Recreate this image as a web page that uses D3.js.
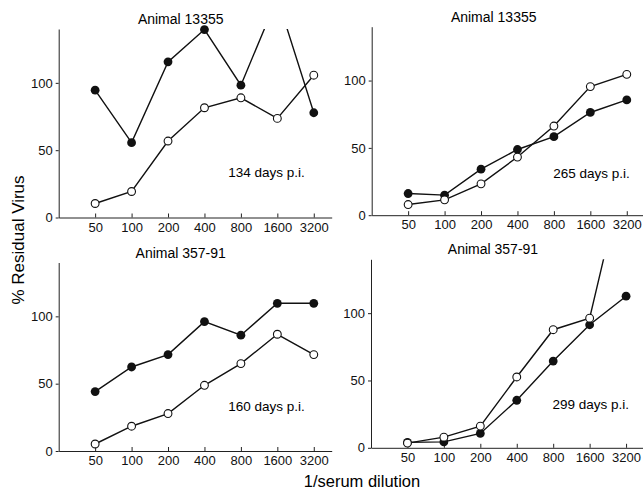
<!DOCTYPE html>
<html>
<head>
<meta charset="utf-8">
<script src="https://cdn.jsdelivr.net/npm/d3@7"></script>
<style>
  body { margin: 0; background: #fff; }
  svg { display: block; font-family: "Liberation Sans", Arial, Helvetica, sans-serif; }
  .axis path, .axis line { stroke: #222; stroke-width: 1; }
  .axis text { font-size: 13px; fill: #111; }
  .serie { fill: none; stroke: #111; stroke-width: 1.4; }
</style>
</head>
<body>
<div id="chart"></div>
<script>
// Dilution values (x axis) and the y ticks
const dilutions = [50, 100, 200, 400, 800, 1600, 3200];
const yTicks = [0, 50, 100];

const titles = ["Animal 13355", "Animal 13355", "Animal 357-91", "Animal 357-91"];
const dayLabels = ["134 days p.i.", "265 days p.i.", "160 days p.i.", "299 days p.i."];

// % residual virus, filled (●) and open (○) series for each panel
const filled134 = [94.6, 55.6, 115.6, 139.6, 98.3, 163, 77.8];
const open134 = [10.4, 19.3, 56.8, 81.5, 88.9, 73.6, 105.7];
const filled265 = [16.1, 14.9, 34.2, 48.8, 58.3, 76.3, 85.6];
const open265 = [7.9, 11.4, 23.3, 43.2, 66.2, 95.5, 104.6];
const filled160 = [44.1, 62.4, 71.6, 96.1, 86.0, 109.7, 109.7];
const open160 = [5.2, 18.4, 27.8, 48.8, 64.9, 86.7, 71.6];
const filled299 = [4.0, 4.4, 10.7, 35.3, 64.4, 91.4, 112.6];
const open299 = [3.5, 7.9, 16.1, 52.6, 87.7, 96.3, 211];

const filledSeries = [filled134, filled265, filled160, filled299];
const openSeries = [open134, open265, open160, open299];

// panel placement (left, top of y axis) inside the svg
const panels = [
    {left: 58.7, top: 29, labelDx: 0, labelDy: -40.5},
    {left: 371.7, top: 26.7, labelDx: 12, labelDy: -37},
    {left: 58.7, top: 262.5, labelDx: 0, labelDy: -40},
    {left: 371, top: 259.3, labelDx: 12, labelDy: -39}
];
const width = 273, height = 188.5;
const yMax = 140;

const svg = d3.select("#chart").append("svg")
    .attr("width", 643)
    .attr("height", 491);

// log2 scale: each doubling of the dilution gets the same space
const x = d3.scaleLog().base(2)
    .domain([25, 4500])
    .range([0, width]);
const y = d3.scaleLinear()
    .domain([0, yMax])
    .range([height, 0]);

const line = d3.line()
    .x(d => x(d.dil))
    .y(d => y(d.val));

panels.forEach(function(p, i) {
    const g = svg.append("g")
        .attr("transform", "translate(" + p.left + "," + p.top + ")");

    // clip only the top, values above 140 leave the frame
    g.append("clipPath")
        .attr("id", "clip" + i)
        .append("rect")
        .attr("x", -5)
        .attr("y", 0)
        .attr("width", width + 10)
        .attr("height", height + 20);

    g.append("g")
        .attr("class", "axis")
        .attr("transform", "translate(0," + height + ")")
        .call(d3.axisBottom(x)
            .tickValues(dilutions)
            .tickFormat(d3.format("d"))
            .tickSizeInner(-4)
            .tickSizeOuter(0)
            .tickPadding(5));

    g.append("g")
        .attr("class", "axis")
        .call(d3.axisLeft(y)
            .tickValues(yTicks)
            .tickSizeInner(3)
            .tickSizeOuter(0)
            .tickPadding(3));

    g.append("text")
        .attr("x", 122)
        .attr("y", -5)
        .attr("text-anchor", "middle")
        .style("font-size", "14px")
        .text(titles[i]);

    g.append("text")
        .attr("x", 169.5 + p.labelDx)
        .attr("y", height + p.labelDy)
        .style("font-size", "13.5px")
        .text(dayLabels[i]);

    const filled = dilutions.map((d, k) => ({dil: d, val: filledSeries[i][k]}));
    const open = dilutions.map((d, k) => ({dil: d, val: openSeries[i][k]}));

    [filled, open].forEach(function(data) {
        g.append("path")
            .datum(data)
            .attr("class", "serie")
            .attr("clip-path", "url(#clip" + i + ")")
            .attr("d", line);
    });

    g.selectAll(".dotFilled").data(filled.filter(d => d.val <= yMax)).enter()
        .append("circle")
        .attr("class", "dotFilled")
        .attr("cx", d => x(d.dil))
        .attr("cy", d => y(d.val))
        .attr("r", 4.4)
        .attr("fill", "#111");

    g.selectAll(".dotOpen").data(open.filter(d => d.val <= yMax)).enter()
        .append("circle")
        .attr("class", "dotOpen")
        .attr("cx", d => x(d.dil))
        .attr("cy", d => y(d.val))
        .attr("r", 3.9)
        .attr("fill", "#fff")
        .attr("stroke", "#111")
        .attr("stroke-width", 1.1);
});

// shared axis titles
svg.append("text")
    .attr("transform", "translate(24,240) rotate(-90)")
    .attr("text-anchor", "middle")
    .style("font-size", "17px")
    .text("% Residual Virus");

svg.append("text")
    .attr("x", 362)
    .attr("y", 487)
    .attr("text-anchor", "middle")
    .style("font-size", "16.5px")
    .text("1/serum dilution");
</script>
</body>
</html>
